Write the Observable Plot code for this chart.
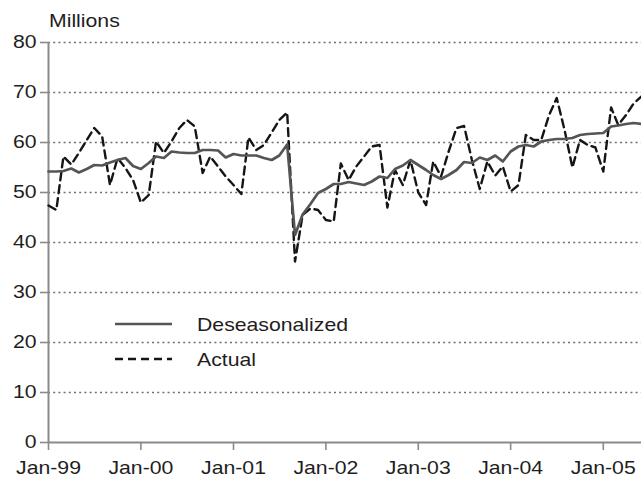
<!DOCTYPE html>
<html>
<head>
<meta charset="utf-8">
<script src="https://cdn.jsdelivr.net/npm/d3@7"></script>
<script src="https://cdn.jsdelivr.net/npm/@observablehq/plot@0.6"></script>
<style>
html, body { margin: 0; padding: 0; background: #fff; overflow: hidden; }
#chart svg text { font-family: "Liberation Sans", Arial, Helvetica, sans-serif; }
</style>
</head>
<body>
<div id="chart"></div>
<script>
// ---- data (monthly, Jan-1999 .. Jun-2005), millions ----
const firstYear = 1999;
const actual = [
  47.4, 46.5, 57.2, 55.6, 57.9, 60.5, 62.9, 61.2, 51.5, 56.9, 54.9, 52.5, // 1999
  48.0, 49.5, 60.2, 57.9, 60.2, 62.9, 64.5, 63.2, 53.9, 57.2, 55.2, 53.2, // 2000
  51.5, 49.7, 61.0, 58.5, 59.5, 62.0, 64.5, 66.0, 36.2, 45.5, 46.8, 46.5, // 2001
  44.5, 44.2, 55.8, 52.5, 55.2, 57.2, 59.2, 59.5, 47.0, 54.5, 51.5, 56.5, // 2002
  50.0, 47.5, 56.2, 53.2, 58.2, 62.9, 63.3, 56.5, 50.7, 56.2, 53.4, 55.2, // 2003
  50.2, 51.5, 61.5, 60.5, 60.5, 65.5, 68.9, 62.5, 55.0, 60.5, 59.5, 59.0, // 2004
  54.2, 67.0, 63.5, 65.5, 67.8, 69.2                                      // 2005
];
const deseasonalized = [
  54.2, 54.2, 54.3, 54.8, 54.0, 54.7, 55.5, 55.4, 56.0, 56.5, 56.9, 55.3, // 1999
  54.7, 55.9, 57.2, 56.9, 58.2, 58.0, 57.9, 57.9, 58.5, 58.5, 58.4, 57.0, // 2000
  57.7, 57.4, 57.4, 57.4, 56.9, 56.5, 57.4, 59.6, 41.5, 45.6, 47.7, 49.9, // 2001
  50.7, 51.7, 51.7, 52.1, 51.8, 51.5, 52.2, 53.2, 52.9, 54.7, 55.4, 56.5, // 2002
  55.5, 54.5, 53.5, 52.7, 53.5, 54.5, 56.1, 55.9, 57.0, 56.5, 57.4, 56.2, // 2003
  58.2, 59.2, 59.5, 59.2, 60.2, 60.5, 60.7, 60.7, 60.9, 61.5, 61.7, 61.8, // 2004
  61.9, 63.2, 63.4, 63.7, 63.9, 63.7                                      // 2005
];
const seriesNames = ["Deseasonalized", "Actual"];
const yTicks = [0, 10, 20, 30, 40, 50, 60, 70, 80];
const xTickYears = [1999, 2000, 2001, 2002, 2003, 2004, 2005];
const yLabel = "Millions";

// ---- build table ----
const months = actual.map((_, i) => new Date(Date.UTC(firstYear, i, 1)));
const rowsActual = months.map((d, i) => ({date: d, value: actual[i], series: seriesNames[1]}));
const rowsDeseas = months.map((d, i) => ({date: d, value: deseasonalized[i], series: seriesNames[0]}));
const xTicks = xTickYears.map(y => new Date(Date.UTC(y, 0, 1)));

const AXIS = "#8a8a8a";
const TEXT = "#1e1e1e";
const STRETCH = 1.18;

const chart = Plot.plot({
  width: 641,
  height: 480,
  marginTop: 42,
  marginBottom: 38,
  marginLeft: 48,
  marginRight: 0,
  style: {fontFamily: "'Liberation Sans', Arial, sans-serif", fontSize: "18px", background: "#fff", overflow: "hidden"},
  x: {type: "utc", domain: d3.extent(months)},
  y: {domain: [0, 80]},
  marks: [
    Plot.gridY(yTicks.filter(t => t > 0), {stroke: "#6f6f6f", strokeOpacity: 1, strokeWidth: 1.4, strokeDasharray: "2,3.2"}),
    Plot.axisY({ticks: yTicks, tickSize: 8, tickPadding: 4, stroke: AXIS, strokeWidth: 1.6, fill: TEXT, fontSize: 18, label: null}),
    Plot.axisX({ticks: xTicks, tickFormat: d3.utcFormat("Jan-%y"), tickSize: 8, tickPadding: 11, stroke: AXIS, strokeWidth: 1.6, fill: TEXT, fontSize: 18, label: null}),
    Plot.ruleY([0], {stroke: AXIS, strokeWidth: 2}),
    Plot.ruleX([months[0]], {y1: yTicks[0], y2: yTicks[yTicks.length - 1], stroke: AXIS, strokeWidth: 2}),
    Plot.lineY(rowsActual, {x: "date", y: "value", stroke: "#151515", strokeWidth: 2.4, strokeDasharray: "8,5"}),
    Plot.lineY(rowsDeseas, {x: "date", y: "value", stroke: "#555", strokeWidth: 2.7})
  ]
});

const svg = d3.select(chart);

// y-axis unit label
svg.append("text")
  .attr("text-anchor", "start")
  .attr("transform", `translate(49,27) scale(${STRETCH},1)`)
  .attr("fill", TEXT).attr("font-size", 18)
  .text(yLabel);

// in-chart legend
const legend = [
  {name: seriesNames[0], dash: null, color: "#555", width: 2.7, y: 324},
  {name: seriesNames[1], dash: "8,5", color: "#151515", width: 2.4, y: 359}
];
legend.forEach(l => {
  svg.append("line")
    .attr("x1", 115).attr("x2", 172).attr("y1", l.y).attr("y2", l.y)
    .attr("stroke", l.color).attr("stroke-width", l.width)
    .attr("stroke-dasharray", l.dash);
  svg.append("text")
    .attr("text-anchor", "start")
    .attr("transform", `translate(197,${l.y + 7}) scale(${STRETCH},1)`)
    .attr("fill", TEXT).attr("font-size", 18)
    .text(l.name);
});

// horizontally stretch the axis labels to match the wide lettering
svg.selectAll("g[aria-label='y-axis tick label'] text, g[aria-label='x-axis tick label'] text").each(function() {
  const t = this.getAttribute("transform") || "";
  this.setAttribute("transform", `${t} scale(${STRETCH},1)`);
});

document.getElementById("chart").appendChild(chart);
</script>
</body>
</html>
